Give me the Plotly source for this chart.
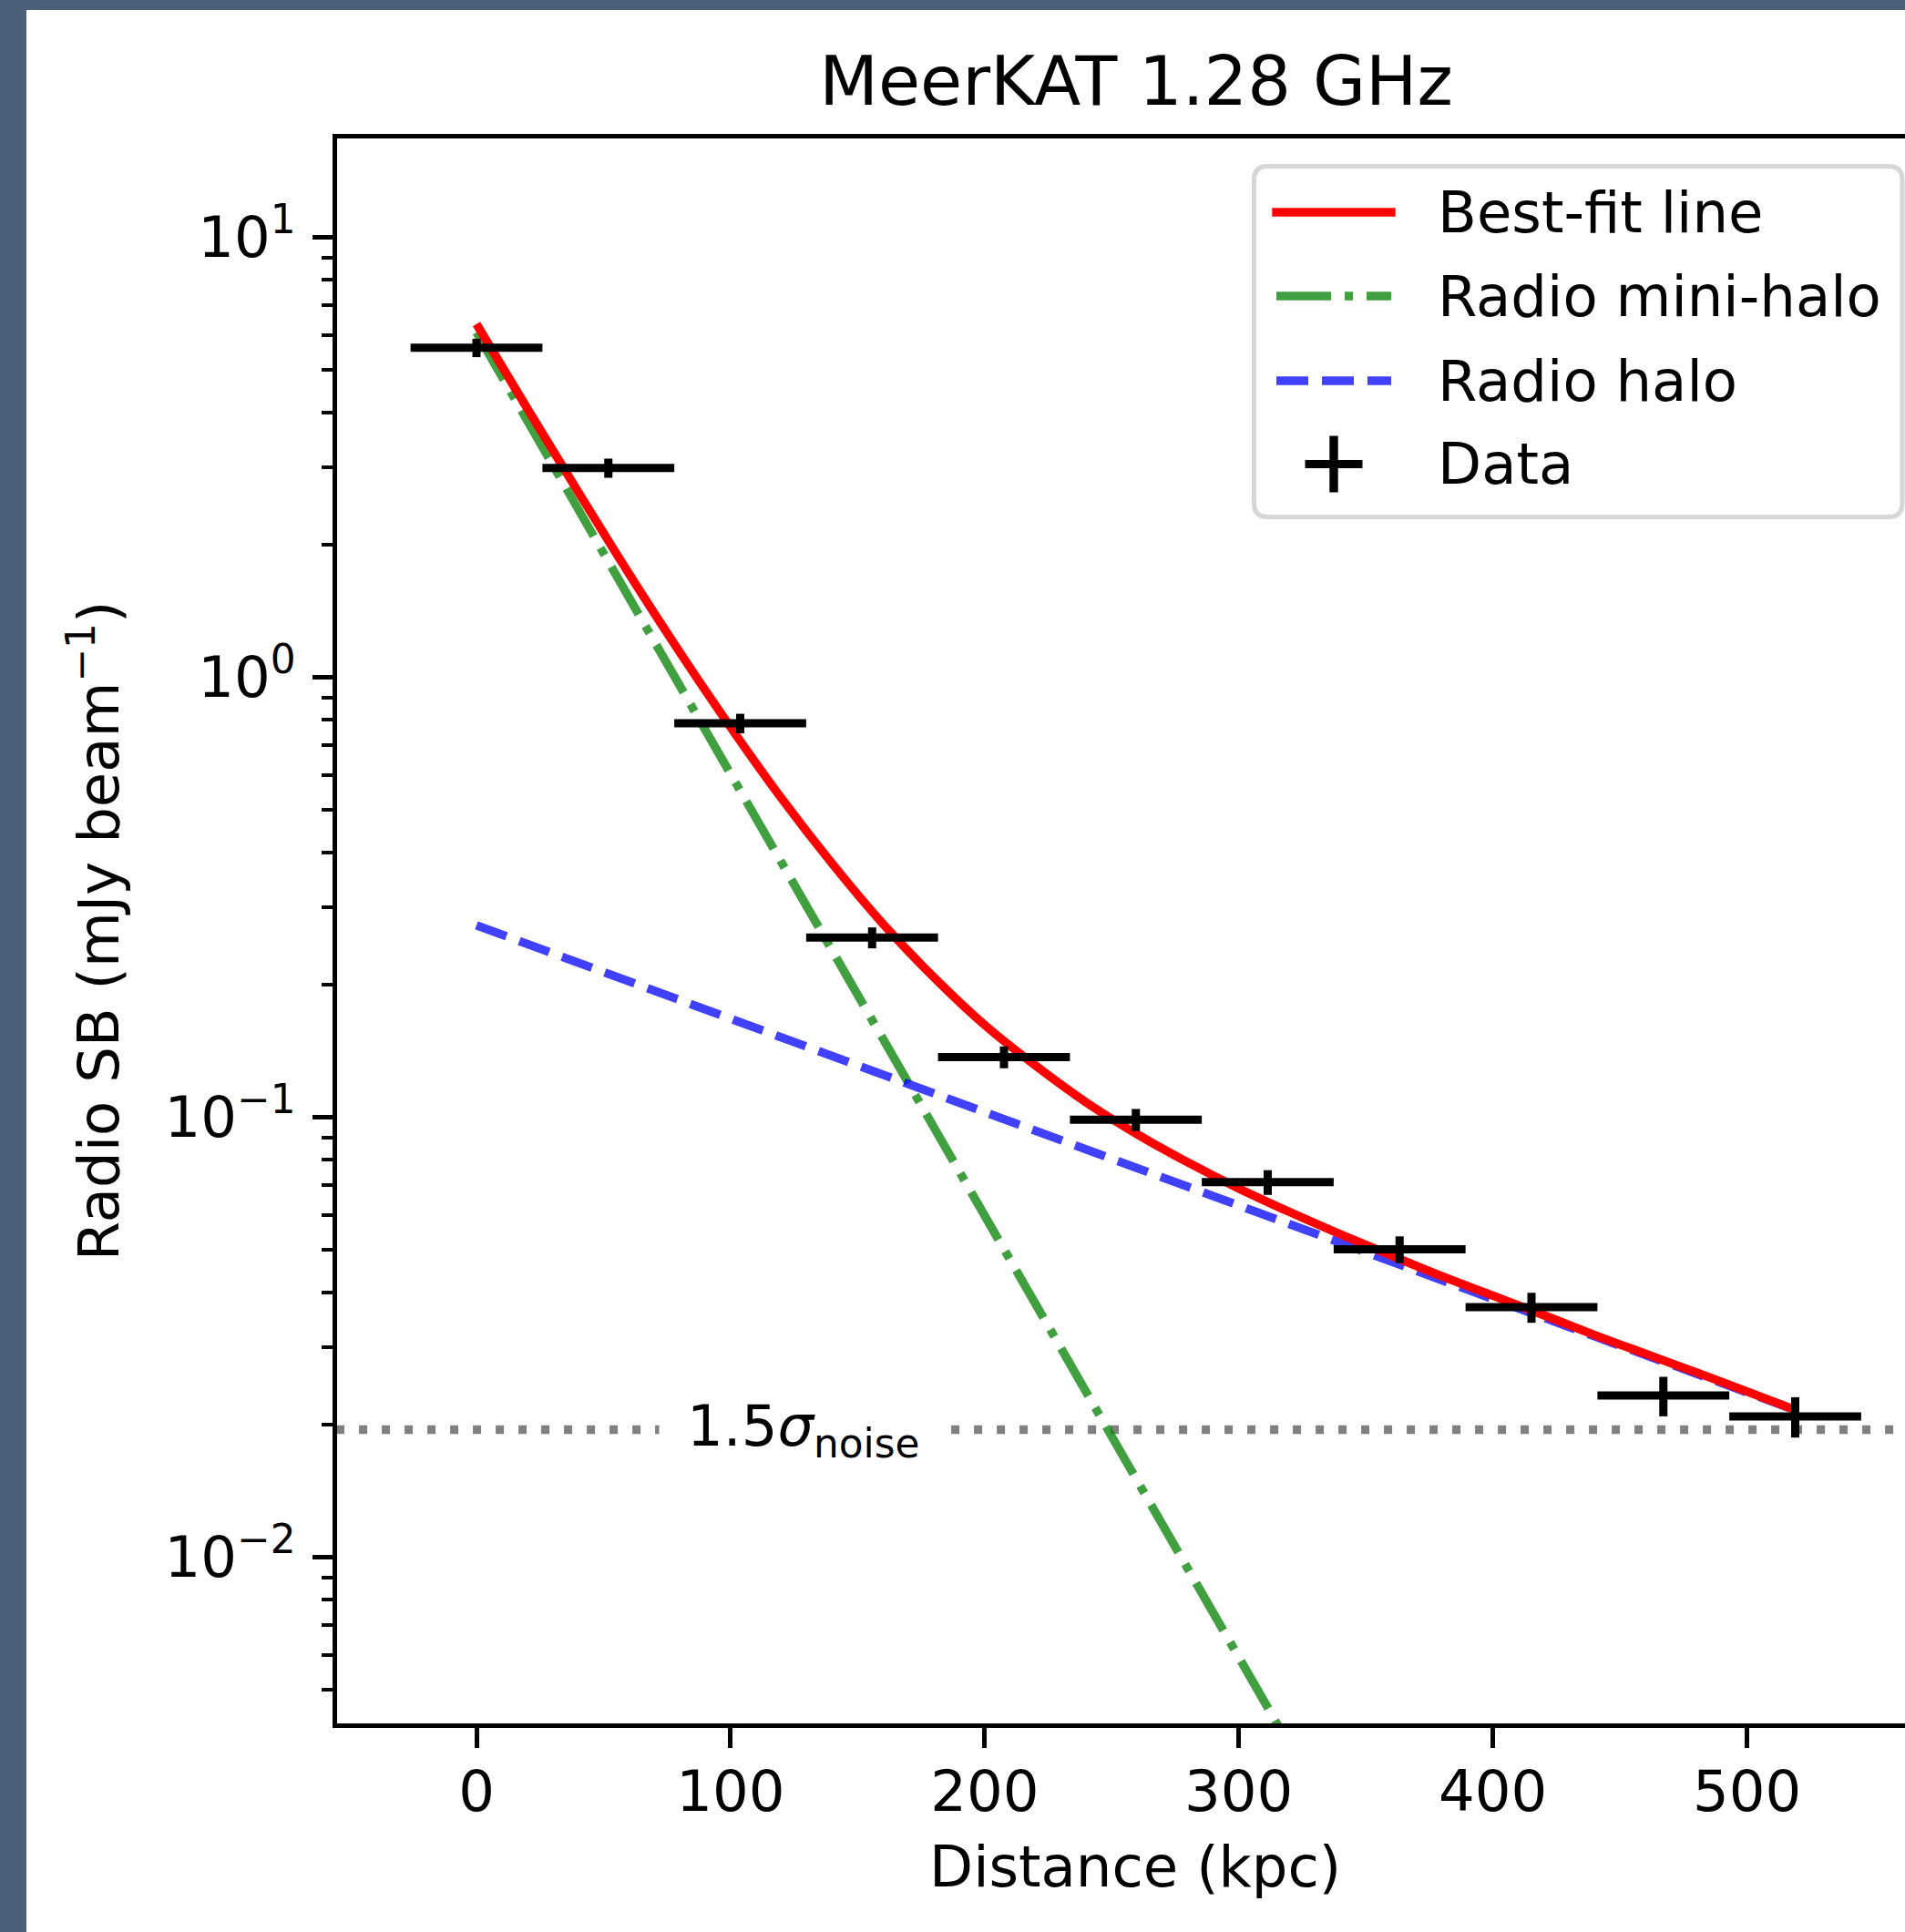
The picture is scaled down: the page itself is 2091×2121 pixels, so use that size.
import numpy as np
import plotly.graph_objects as go

# ---------------- data ----------------
distance_kpc = [0, 51.9, 103.8, 155.7, 207.6, 259.5, 311.4, 363.3, 415.2, 467.1, 519.0]
bin_halfwidth_kpc = [25.95, 25.95, 25.95, 25.95, 25.95, 25.95, 25.95, 25.95, 25.95, 25.95, 25.95]
radio_sb = [5.61, 2.99, 0.786, 0.256, 0.137, 0.0987, 0.0712, 0.0501, 0.0370, 0.0233, 0.0209]
radio_sb_err = [0.27, 0.15, 0.040, 0.014, 0.0078, 0.0057, 0.0046, 0.0035, 0.0029, 0.0024, 0.0022]

bestfit_x = [0, 20, 40, 60, 80, 100, 120, 140, 160, 180, 200, 220, 240, 260, 280,
             300, 320, 340, 360, 380, 400, 420, 440, 460, 480, 500, 519]
bestfit_y = [6.35, 4.08, 2.64, 1.72, 1.14, 0.770, 0.531, 0.377, 0.275, 0.208,
             0.162, 0.131, 0.108, 0.0915, 0.0789, 0.0689, 0.0609, 0.0542, 0.0485, 0.0435,
             0.0393, 0.0355, 0.0320, 0.0290, 0.0263, 0.0238, 0.0216]

minihalo_x = [0, 360]
minihalo_y = [6.08, 0.00148]

halo_x = [0, 519]
halo_y = [0.273, 0.0216]

noise_level = 0.0195
noise_x = [-100, 700]

x_ticks = [0, 100, 200, 300, 400, 500]
y_ticks = [0.01, 0.1, 1, 10]
y_ticktext = ["10<sup>−2</sup>", "10<sup>−1</sup>", "10<sup>0</sup>", "10<sup>1</sup>"]
y_minor = [0.005, 0.006, 0.007, 0.008, 0.009,
           0.02, 0.03, 0.04, 0.05, 0.06, 0.07, 0.08, 0.09,
           0.2, 0.3, 0.4, 0.5, 0.6, 0.7, 0.8, 0.9,
           2, 3, 4, 5, 6, 7, 8, 9]

legend_labels = ["Best-fit line", "Radio mini-halo", "Radio halo", "Data"]

# ---------------- geometry ----------------
W, H = 2091, 2121
L, R, T, B = 370, 0, 152, 229
PW, PH = W - L - R, H - T - B
FONT = "DejaVu Sans"
FS = 62.5

RED = "#ff0000"
GREEN = "rgba(0,128,0,0.75)"
BLUE = "rgba(0,0,255,0.75)"
LW = 9.4


def px_x(px):
    return (px - L) / PW


def px_y(py):
    return (H - B - py) / PH


fig = go.Figure()

fig.add_trace(go.Scatter(x=noise_x, y=[noise_level, noise_level], mode="lines",
                         line=dict(color="#808080", width=LW, dash="9px,16px"),
                         showlegend=False, hoverinfo="skip"))
fig.add_trace(go.Scatter(x=minihalo_x, y=minihalo_y, mode="lines", name=legend_labels[1],
                         line=dict(color=GREEN, width=LW, dash="60px,15px,9px,15px"),
                         showlegend=False))
fig.add_trace(go.Scatter(x=halo_x, y=halo_y, mode="lines", name=legend_labels[2],
                         line=dict(color=BLUE, width=LW, dash="35px,15px"),
                         showlegend=False))
fig.add_trace(go.Scatter(x=bestfit_x, y=bestfit_y, mode="lines", name=legend_labels[0],
                         line=dict(color=RED, width=LW, shape="spline"),
                         showlegend=False))
fig.add_trace(go.Scatter(x=distance_kpc, y=radio_sb, mode="markers", name=legend_labels[3],
                         marker=dict(size=1, color="black"),
                         error_x=dict(type="data", array=bin_halfwidth_kpc, color="black",
                                      thickness=9, width=0),
                         error_y=dict(type="data", array=radio_sb_err, color="black",
                                      thickness=9, width=0),
                         showlegend=False))

shapes = []
# screenshot frame (dark strip left and top)
shapes.append(dict(type="rect", xref="paper", yref="paper", x0=px_x(0), x1=px_x(29),
                   y0=px_y(H), y1=px_y(0), fillcolor="#4b6078", line=dict(width=0),
                   layer="above"))
shapes.append(dict(type="rect", xref="paper", yref="paper", x0=px_x(0), x1=px_x(W),
                   y0=px_y(11), y1=px_y(0), fillcolor="#4b6078", line=dict(width=0),
                   layer="above"))

# legend frame (rounded)
x0, x1, y0, y1, r = 1376.5, 2088, 182.5, 567.5, 15
path = (f"M {px_x(x0 + r)},{px_y(y0)} L {px_x(x1 - r)},{px_y(y0)} "
        f"Q {px_x(x1)},{px_y(y0)} {px_x(x1)},{px_y(y0 + r)} "
        f"L {px_x(x1)},{px_y(y1 - r)} Q {px_x(x1)},{px_y(y1)} {px_x(x1 - r)},{px_y(y1)} "
        f"L {px_x(x0 + r)},{px_y(y1)} Q {px_x(x0)},{px_y(y1)} {px_x(x0)},{px_y(y1 - r)} "
        f"L {px_x(x0)},{px_y(y0 + r)} Q {px_x(x0)},{px_y(y0)} {px_x(x0 + r)},{px_y(y0)} Z")
shapes.append(dict(type="path", xref="paper", yref="paper", path=path,
                   fillcolor="white", line=dict(color="#d6d6d6", width=5), layer="above"))

rows = [233, 325, 418, 509.5]
sx0, sx1 = 1401, 1527
shapes.append(dict(type="line", xref="paper", yref="paper", x0=px_x(sx0 - 4.7), x1=px_x(sx1 + 4.7),
                   y0=px_y(rows[0]), y1=px_y(rows[0]), line=dict(color=RED, width=LW), layer="above"))
shapes.append(dict(type="line", xref="paper", yref="paper", x0=px_x(sx0), x1=px_x(sx1),
                   y0=px_y(rows[1]), y1=px_y(rows[1]),
                   line=dict(color=GREEN, width=LW, dash="60px,15px,9px,15px"), layer="above"))
shapes.append(dict(type="line", xref="paper", yref="paper", x0=px_x(sx0), x1=px_x(sx1),
                   y0=px_y(rows[2]), y1=px_y(rows[2]),
                   line=dict(color=BLUE, width=LW, dash="35px,15px"), layer="above"))
cx = 1464
shapes.append(dict(type="line", xref="paper", yref="paper", x0=px_x(cx - 31.5), x1=px_x(cx + 31.5),
                   y0=px_y(rows[3]), y1=px_y(rows[3]), line=dict(color="black", width=9), layer="above"))
shapes.append(dict(type="line", xref="paper", yref="paper", x0=px_x(cx), x1=px_x(cx),
                   y0=px_y(rows[3] - 31), y1=px_y(rows[3] + 31), line=dict(color="black", width=9.4),
                   layer="above"))

annotations = []
for lab, ry in zip(legend_labels, rows):
    annotations.append(dict(text=lab, xref="paper", yref="paper", x=px_x(1576), y=px_y(ry),
                            xanchor="left", yanchor="middle", showarrow=False,
                            font=dict(family=FONT, size=FS, color="black")))

annotations.append(dict(text="1.5<i>σ</i><sub>noise</sub>", xref="x", yref="y",
                        x=128.5, y=float(np.log10(noise_level)), xanchor="center", yanchor="middle",
                        showarrow=False, bgcolor="white", borderpad=30,
                        font=dict(family=FONT, size=FS, color="black")))

# x-axis title (centred on the full, uncropped axes as in the reference)
annotations.append(dict(text="Distance (kpc)", xref="paper", yref="paper",
                        x=px_x(1246), y=px_y(2049), xanchor="center", yanchor="middle",
                        showarrow=False, font=dict(family=FONT, size=FS, color="black")))

fig.update_layout(
    width=W, height=H, autosize=False,
    margin=dict(l=L, r=R, t=T, b=B, pad=0),
    paper_bgcolor="white", plot_bgcolor="white",
    font=dict(family=FONT, size=FS, color="black"),
    title=dict(text="MeerKAT 1.28 GHz", x=px_x(1247), xref="paper", xanchor="center",
               y=1 - 89 / H, yref="container", yanchor="middle",
               font=dict(family=FONT, size=75, color="black")),
    showlegend=False,
    shapes=shapes,
    annotations=annotations,
)

fig.update_xaxes(range=[-54.86, 562.2], showline=True, linewidth=5, linecolor="black",
                 mirror=True, ticks="outside", ticklen=22, tickwidth=5, tickcolor="black",
                 tickvals=x_ticks, showgrid=False, zeroline=False, ticklabelstandoff=-6,
                 tickfont=dict(family=FONT, size=FS, color="black"))

fig.update_yaxes(type="log", range=[-2.3778, 1.2246], showline=True, linewidth=5, linecolor="black",
                 mirror=False, ticks="outside", ticklen=22, tickwidth=5, tickcolor="black",
                 tickvals=y_ticks, ticktext=y_ticktext, showgrid=False, zeroline=False,
                 ticklabelstandoff=6,
                 tickfont=dict(family=FONT, size=FS, color="black"),
                 minor=dict(tickvals=y_minor, ticks="outside", ticklen=12.5, tickwidth=3.75,
                            tickcolor="black", showgrid=False),
                 title=dict(text="Radio SB (mJy beam<sup>−1</sup>)",
                            font=dict(family=FONT, size=FS, color="black"), standoff=31))

fig.write_html("out.html")
